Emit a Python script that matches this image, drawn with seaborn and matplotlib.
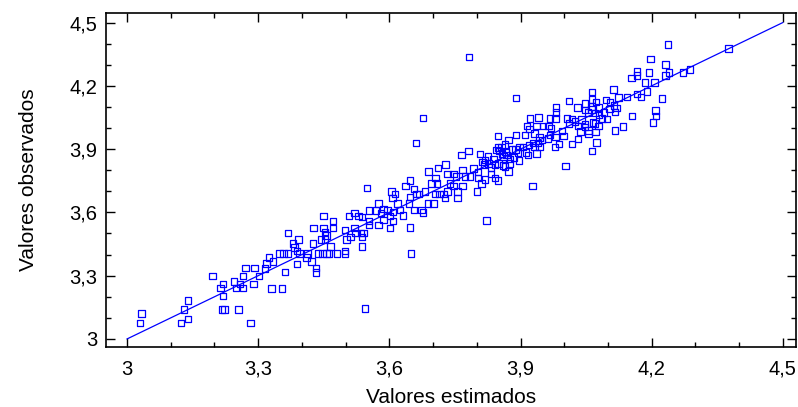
import matplotlib
matplotlib.use('Agg')
import matplotlib.pyplot as plt
from matplotlib.ticker import FuncFormatter, MultipleLocator
import pandas as pd
import seaborn as sns

estimados = [
    3.033, 3.030, 3.124, 3.130, 3.140, 3.140, 3.196, 3.214, 3.220, 3.220,
    3.217, 3.223, 3.245, 3.249, 3.255, 3.265, 3.258, 3.265, 3.271, 3.292,
    3.289, 3.283, 3.302, 3.316, 3.319, 3.325, 3.334, 3.331, 3.355, 3.361,
    3.368, 3.349, 3.358, 3.368, 3.380, 3.383, 3.389, 3.392, 3.389, 3.395,
    3.413, 3.410, 3.422, 3.425, 3.432, 3.432, 3.427, 3.450, 3.450, 3.453,
    3.456, 3.444, 3.453, 3.437, 3.447, 3.456, 3.462, 3.465, 3.471, 3.471,
    3.480, 3.499, 3.499, 3.499, 3.502, 3.508, 3.511, 3.520, 3.520, 3.523,
    3.529, 3.535, 3.538, 3.538, 3.538, 3.541, 3.544, 3.553, 3.553, 3.553,
    3.569, 3.575, 3.575, 3.581, 3.587, 3.587, 3.596, 3.602, 3.601, 3.608,
    3.608, 3.605, 3.613, 3.607, 3.619, 3.624, 3.631, 3.637, 3.647, 3.647,
    3.647, 3.650, 3.656, 3.656, 3.645, 3.662, 3.668, 3.674, 3.677, 3.682,
    3.688, 3.689, 3.697, 3.701, 3.706, 3.709, 3.704, 3.711, 3.715, 3.724,
    3.727, 3.729, 3.733, 3.733, 3.739, 3.747, 3.747, 3.753, 3.756, 3.756,
    3.765, 3.767, 3.767, 3.773, 3.781, 3.785, 3.793, 3.800, 3.803, 3.807,
    3.811, 3.813, 3.817, 3.822, 3.826, 3.832, 3.842, 3.842, 3.848, 3.851,
    3.858, 3.803, 3.838, 3.819, 3.827, 3.833, 3.850, 3.861, 3.868, 3.876,
    3.885, 3.894, 3.896, 3.819, 3.864, 3.873, 3.917, 3.848, 3.922, 3.941,
    3.967, 3.980, 3.981, 3.981, 3.915, 3.936, 3.951, 3.964, 3.890, 3.872,
    3.864, 3.857, 3.849, 3.845, 3.860, 3.875, 3.866, 3.880, 3.889, 3.898,
    3.927, 4.003, 3.979, 3.988, 4.018, 4.063, 4.006, 4.011, 4.025, 4.032,
    4.040, 4.037, 4.047, 4.055, 4.066, 4.032, 4.047, 4.070, 4.018, 4.030,
    4.054, 4.062, 4.080, 4.079, 4.098, 4.091, 4.048, 4.071, 4.074, 3.998,
    3.995, 3.920, 3.970, 3.967, 3.980, 3.910, 3.932, 3.943, 3.949, 3.940,
    3.929, 3.919, 3.906, 3.932, 3.943, 3.913, 3.937, 3.963, 4.154, 4.166,
    4.166, 4.194, 4.185, 4.206, 4.231, 4.240, 4.113, 4.063, 4.096, 4.105,
    4.124, 4.144, 4.166, 4.176, 4.189, 4.223, 4.064, 4.073, 4.064, 4.114,
    4.119, 4.116, 4.047, 4.070, 4.078, 4.055, 4.155, 4.134, 4.116, 4.209,
    4.210, 4.203, 4.197, 4.232, 4.104, 4.086, 4.237, 4.272, 4.288, 4.376,
    3.782, 3.677, 3.661, 3.549, 3.890, 4.011,
]
observados = [
    3.120, 3.076, 3.076, 3.139, 3.183, 3.095, 3.299, 3.242, 3.261, 3.204,
    3.139, 3.139, 3.273, 3.242, 3.139, 3.299, 3.261, 3.242, 3.336, 3.336,
    3.261, 3.076, 3.299, 3.335, 3.359, 3.387, 3.368, 3.240, 3.240, 3.318,
    3.502, 3.406, 3.406, 3.406, 3.452, 3.433, 3.418, 3.471, 3.355, 3.406,
    3.406, 3.387, 3.368, 3.452, 3.336, 3.316, 3.527, 3.584, 3.527, 3.508,
    3.490, 3.471, 3.471, 3.406, 3.406, 3.406, 3.406, 3.439, 3.559, 3.527,
    3.406, 3.418, 3.406, 3.517, 3.471, 3.584, 3.483, 3.597, 3.527, 3.502,
    3.584, 3.502, 3.483, 3.578, 3.439, 3.502, 3.145, 3.610, 3.559, 3.540,
    3.610, 3.641, 3.540, 3.597, 3.616, 3.565, 3.610, 3.584, 3.527, 3.603,
    3.559, 3.700, 3.687, 3.668, 3.643, 3.611, 3.586, 3.725, 3.750, 3.674,
    3.529, 3.406, 3.712, 3.611, 3.643, 3.687, 3.687, 3.611, 3.599, 3.700,
    3.643, 3.795, 3.738, 3.643, 3.763, 3.738, 3.687, 3.810, 3.687, 3.687,
    3.668, 3.826, 3.782, 3.700, 3.738, 3.782, 3.725, 3.769, 3.668, 3.700,
    3.873, 3.801, 3.725, 3.769, 3.890, 3.769, 3.807, 3.700, 3.763, 3.877,
    3.738, 3.839, 3.826, 3.561, 3.864, 3.782, 3.826, 3.763, 3.750, 3.890,
    3.877, 3.791, 3.852, 3.848, 3.833, 3.814, 3.833, 3.864, 3.873, 3.852,
    3.861, 3.883, 3.845, 3.757, 3.817, 3.795, 3.873, 3.962, 4.044, 4.049,
    4.044, 4.044, 4.073, 4.096, 4.009, 4.009, 4.009, 4.009, 3.968, 3.943,
    3.921, 3.911, 3.908, 3.896, 3.823, 3.833, 3.886, 3.899, 3.899, 3.911,
    3.725, 3.820, 3.911, 3.924, 3.924, 3.892, 4.044, 4.022, 4.032, 4.009,
    4.041, 3.984, 4.019, 3.987, 4.025, 3.949, 4.085, 4.072, 4.043, 4.096,
    4.074, 4.087, 4.096, 4.062, 4.043, 4.074, 4.005, 3.982, 3.932, 3.961,
    3.986, 3.995, 3.999, 3.967, 3.957, 3.967, 3.973, 3.954, 3.944, 3.929,
    3.929, 3.919, 3.910, 3.910, 3.910, 3.885, 3.878, 3.951, 4.237, 4.250,
    4.269, 4.262, 4.215, 4.215, 4.250, 4.263, 4.183, 4.171, 4.133, 4.123,
    4.145, 4.148, 4.161, 4.148, 4.174, 4.139, 4.136, 4.123, 4.101, 4.107,
    4.095, 4.076, 4.117, 4.022, 4.009, 3.975, 4.057, 4.006, 3.987, 4.082,
    4.057, 4.025, 4.327, 4.302, 4.090, 4.046, 4.395, 4.262, 4.278, 4.376,
    4.336, 4.047, 3.929, 3.716, 4.142, 4.128,
]

# recta y = x entre los extremos del eje
linea = [3.0, 4.5]
ticks = [3.0, 3.3, 3.6, 3.9, 4.2, 4.5]

azul = '#0000ff'


def coma(v, pos):
    s = f"{v:.1f}".replace('.', ',')
    return s[:-2] if s.endswith(',0') else s


sns.set_style('ticks')
plt.rcParams['font.family'] = ['Liberation Sans', 'DejaVu Sans']
plt.rcParams['text.color'] = 'black'
plt.rcParams['axes.labelcolor'] = 'black'

df = pd.DataFrame({'estimados': estimados, 'observados': observados})

fig = plt.figure(figsize=(7.98, 4.07), dpi=100)
ax = fig.add_axes([0.1328, 0.1474, 0.8647, 0.8206])

sns.lineplot(x=linea, y=linea, color=azul, linewidth=0.9, ax=ax)
sns.scatterplot(data=df, x='estimados', y='observados', marker='s', s=22,
                facecolor='none', edgecolor=azul, linewidth=0.9, ax=ax)

ax.set_xlim(2.952, 4.530)
ax.set_ylim(2.962, 4.545)
ax.set_xticks(ticks)
ax.set_yticks(ticks)
ax.xaxis.set_minor_locator(MultipleLocator(0.1))
ax.yaxis.set_minor_locator(MultipleLocator(0.1))
ax.xaxis.set_major_formatter(FuncFormatter(coma))
ax.yaxis.set_major_formatter(FuncFormatter(coma))

ax.tick_params(which='both', direction='in', top=True, right=True,
               color='black', labelcolor='black', width=1)
ax.tick_params(which='major', length=6.5, labelsize=14.5)
ax.tick_params(axis='x', which='major', pad=9)
ax.tick_params(axis='y', which='major', pad=6)
ax.tick_params(which='minor', length=3.5)
for sp in ax.spines.values():
    sp.set_color('black')
    sp.set_linewidth(1.2)

ax.set_xlabel('Valores estimados', fontsize=15, labelpad=7)
ax.set_ylabel('Valores observados', fontsize=15, labelpad=23)

fig.savefig('out.png', dpi=100)
